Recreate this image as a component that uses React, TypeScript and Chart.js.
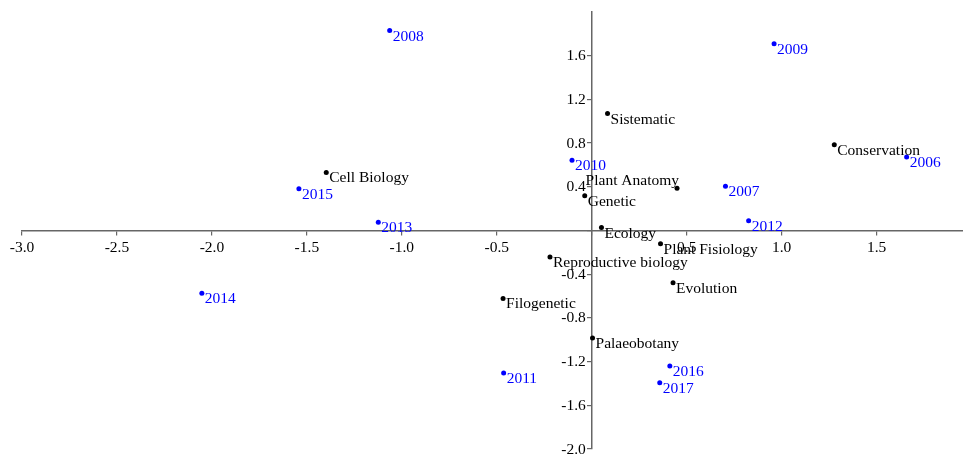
import React, { useEffect, useRef } from "react";
import { Chart, registerables } from "chart.js";

Chart.register(...registerables);

const yearLabels = ["2006", "2007", "2008", "2009", "2010", "2011", "2012", "2013", "2014", "2015", "2016", "2017"];
const yearX = [1.658, 0.704, -1.064, 0.96, -0.104, -0.464, 0.826, -1.124, -2.053, -1.542, 0.411, 0.358];
const yearY = [0.671, 0.405, 1.83, 1.708, 0.643, -1.305, 0.088, 0.076, -0.574, 0.381, -1.241, -1.394];

const topicLabels = [
  "Cell Biology",
  "Sistematic",
  "Conservation",
  "Plant Anatomy",
  "Genetic",
  "Ecology",
  "Plant Fisiology",
  "Reproductive biology",
  "Evolution",
  "Filogenetic",
  "Palaeobotany",
];
const topicX = [-1.398, 0.083, 1.277, 0.449, -0.037, 0.051, 0.362, -0.22, 0.428, -0.467, 0.004];
const topicY = [0.531, 1.07, 0.784, 0.387, 0.317, 0.027, -0.122, -0.244, -0.479, -0.622, -0.985];

const leftPlacedLabels = ["Plant Anatomy"];

const FONT = "'Liberation Serif', 'Times New Roman', serif";
const FONT_SIZE = 15.5;

const fmt = (v: any) => {
  const n = Number(v);
  if (Math.abs(n) < 1e-9) return "";
  return n.toFixed(1);
};

// Draws the y-axis tick labels left of the axis (Chart.js puts them flush on a centred axis)
const yTickLabelPlugin = {
  id: "yTickLabels",
  beforeDatasetsDraw(chart: any) {
    const ys = chart.scales.y;
    const xs = chart.scales.x;
    const ctx = chart.ctx;
    const axisX = xs.getPixelForValue(0);
    ctx.save();
    ctx.font = `${FONT_SIZE}px ${FONT}`;
    ctx.fillStyle = "#000";
    ctx.textAlign = "right";
    ctx.textBaseline = "middle";
    ys.ticks.forEach((t: any) => {
      const s = fmt(t.value);
      if (!s) return;
      ctx.fillText(s, axisX - 6, ys.getPixelForValue(t.value) + 0.5);
    });
    ctx.restore();
  },
};

const pointLabelPlugin = {
  id: "pointLabels",
  afterDatasetsDraw(chart: any) {
    const ctx = chart.ctx;
    ctx.save();
    ctx.font = `${FONT_SIZE}px ${FONT}`;
    chart.data.datasets.forEach((ds: any, i: number) => {
      const meta = chart.getDatasetMeta(i);
      ctx.fillStyle = ds.labelColor;
      meta.data.forEach((el: any, j: number) => {
        const text = ds.pointNames[j];
        ctx.textBaseline = "middle";
        if (leftPlacedLabels.includes(text)) {
          ctx.textAlign = "right";
          ctx.fillText(text, el.x + 2, el.y - 7);
        } else {
          ctx.textAlign = "left";
          ctx.fillText(text, el.x + 3, el.y + 6);
        }
      });
    });
    ctx.restore();
  },
};

export default function App() {
  const ref = useRef<HTMLCanvasElement | null>(null);
  useEffect(() => {
    if (!ref.current) return;
    const chart = new Chart(ref.current, {
      type: "scatter",
      data: {
        datasets: [
          {
            label: "Years",
            data: yearX.map((x, i) => ({ x, y: yearY[i] })),
            pointNames: yearLabels,
            labelColor: "#0000ff",
            backgroundColor: "#0000ff",
            borderColor: "#0000ff",
            pointRadius: 2.5,
            borderWidth: 0,
          } as any,
          {
            label: "Topics",
            data: topicX.map((x, i) => ({ x, y: topicY[i] })),
            pointNames: topicLabels,
            labelColor: "#000000",
            backgroundColor: "#000000",
            borderColor: "#000000",
            pointRadius: 2.5,
            borderWidth: 0,
          } as any,
        ],
      },
      options: {
        animation: false,
        responsive: false,
        layout: { padding: { left: 22, top: 12, right: 0, bottom: 7 } },
        plugins: { legend: { display: false }, tooltip: { enabled: false } },
        scales: {
          x: {
            type: "linear",
            min: -3,
            max: 1.96,
            position: { y: 0 } as any,
            border: { color: "#666", width: 1.5 },
            grid: { drawOnChartArea: false, color: "#666", tickLength: 4, lineWidth: 1.2 },
            ticks: {
              stepSize: 0.5,
              includeBounds: false,
              autoSkip: false,
              maxRotation: 0,
              padding: 4,
              color: "#000",
              font: { family: FONT, size: FONT_SIZE },
              callback: (v: any) => fmt(v),
            },
          },
          y: {
            type: "linear",
            min: -2,
            max: 1.999,
            position: { x: 0 } as any,
            border: { color: "#666", width: 1.5 },
            grid: { drawOnChartArea: false, color: "#666", tickLength: 4, lineWidth: 1.2 },
            ticks: {
              stepSize: 0.4,
              includeBounds: false,
              autoSkip: false,
              display: false,
              font: { family: FONT, size: FONT_SIZE },
            },
          },
        },
      } as any,
      plugins: [yTickLabelPlugin, pointLabelPlugin],
    });
    return () => chart.destroy();
  }, []);
  return (
    <div
      style={{
        position: "absolute",
        left: 0,
        top: 0,
        width: 963,
        height: 456,
        overflow: "hidden",
        background: "#fff",
      }}
    >
      <canvas ref={ref} width={968} height={456} style={{ display: "block" }} />
    </div>
  );
}
